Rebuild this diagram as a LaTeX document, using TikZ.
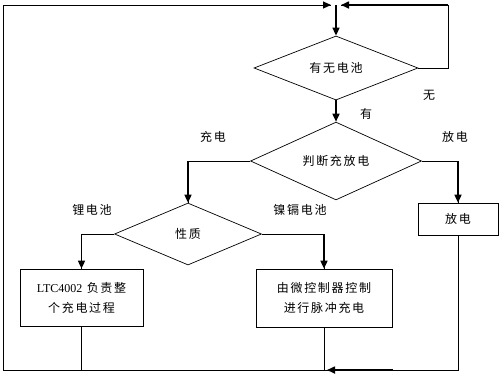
\documentclass[tikz,border=0pt]{standalone}
\usepackage{fontspec}
\setmainfont{Liberation Serif}
\newfontfamily\cjk[LetterSpace=14]{Noto Sans CJK SC}
\usetikzlibrary{arrows.meta, shapes.geometric}
\def\thin{0.7pt}
\def\thick{1.6pt}

\begin{document}
\begin{tikzpicture}[
    x=1pt, y=-1pt,
    >={Triangle[length=8pt,width=7pt]},
    every node/.style={font=\fontsize{12}{20}\selectfont\cjk, align=center},
    diam/.style={diamond, draw, line width=\thin, inner sep=0pt},
    box/.style={rectangle, draw, line width=\thin, inner sep=0pt},
    ln/.style={line width=\thin},
    arr/.style={line width=\thick, ->}
]
\useasboundingbox (0,0) rectangle (500,376);

% decisions
\node[diam, minimum width=164pt, minimum height=61pt] (hasbat) at (336,68) {有无电池};
\node[diam, minimum width=171pt, minimum height=60pt] (mode) at (336,161) {判断充放电};
\node[diam, minimum width=147pt, minimum height=62pt] (kind) at (188,234) {性质};

% actions
\node[box, minimum width=80pt, minimum height=32pt] (dis) at (458,219) {放电};
\node[box, minimum width=123pt, minimum height=57pt] (ltc) at (81.5,297.5)
    {{\rmfamily LTC4002} 负责整\\个充电过程};
\node[box, minimum width=136pt, minimum height=58pt] (mcu) at (324,298)
    {由微控制器控制\\进行脉冲充电};

% branch labels
\node (yes) at (366,114) {有};
\node (no) at (429,95) {无};
\node (chg) at (213,137) {充电};
\node (dchg) at (455,137) {放电};
\node (li) at (92,210) {锂电池};
\node (nicd) at (300,210) {镍镉电池};

\coordinate (top) at (336,5);
\coordinate (topL) at (331,5);
\coordinate (topR) at (341,5);
\coordinate (bot) at (3,370);
\coordinate (join) at (327,370);

% main flow
\draw[arr] (top) -- (hasbat.north);
\draw[arr] (hasbat.south) -- (mode.north);
\draw[ln] (hasbat.east) -- ++(30,0) |- (topR);
\draw[->, line width=\thick] (448,5) -- (topR);
\draw[ln] (mode.west) -| (kind.north);
\draw[arr] (kind.north |- mode.west) -- (kind.north);
\draw[ln] (mode.east) -| (dis.north);
\draw[arr] (dis.north |- mode.east) -- (dis.north);
\draw[ln] (kind.west) -| (ltc.north);
\draw[arr] (ltc.north |- kind.west) -- (ltc.north);
\draw[ln] (kind.east) -| (mcu.north);
\draw[arr] (mcu.north |- kind.east) -- (mcu.north);

% return path
\draw[ln] (dis.south) |- (join);
\draw[arr] (dis.south |- join) ++(-65,0) -- (join);
\draw[ln] (mcu.south) -- (mcu.south |- bot);
\draw[ln] (ltc.south) -- (ltc.south |- bot);
\draw[ln] (join) -- (bot) -- (3,5) -- (topL);
\draw[->, line width=1pt] (170,5) -- (topL);
\end{tikzpicture}
\end{document}
